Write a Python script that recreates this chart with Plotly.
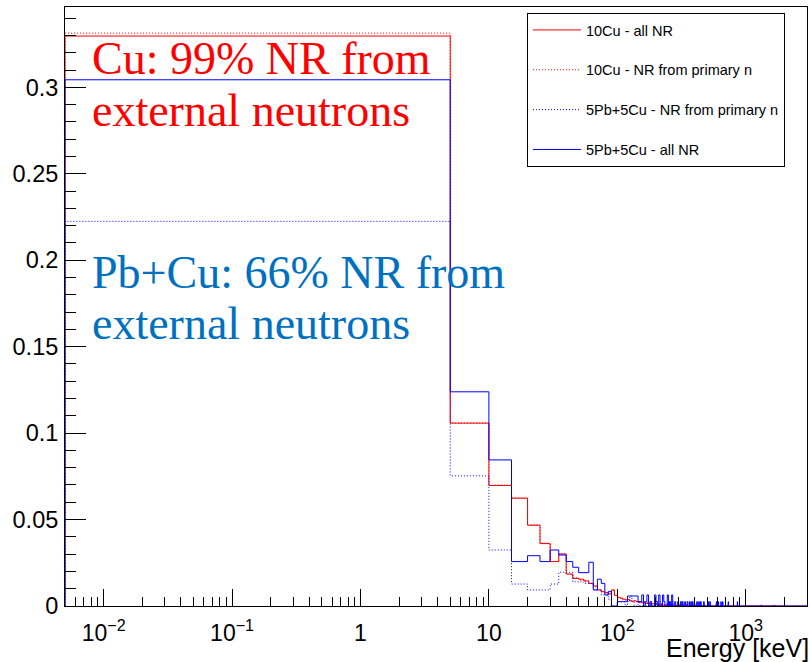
import numpy as np
import plotly.graph_objects as go

# ---------------- data ----------------
BIN_WIDTH = 5.0      # keV
N_BINS = 600         # 0 .. 3000 keV
X_MIN = 0.005        # lower limit of log axis
X_MAX = 3000.0
Y_MAX = 0.3465

# first 20 bins (0-100 keV), one value per 5 keV bin
red_all_dense = [0.3297, 0.1058, 0.0697, 0.0624, 0.0467, 0.0361, 0.0257, 0.0301, 0.0185, 0.0160,
                 0.0155, 0.0145, 0.0131, 0.0116, 0.0093, 0.0083, 0.0077, 0.0070, 0.0093, 0.0062]
red_primary_dense = [0.3314, 0.1058, 0.0699, 0.0624, 0.0470, 0.0363, 0.0257, 0.0301, 0.0183, 0.0162,
                     0.0150, 0.0145, 0.0131, 0.0114, 0.0093, 0.0081, 0.0077, 0.0068, 0.0090, 0.0060]
blue_primary_dense = [0.2225, 0.0753, 0.0324, 0.0127, 0.0093, 0.0093, 0.0127, 0.0195, 0.0195, 0.0140,
                      0.0140, 0.0131, 0.0131, 0.0093, 0.0093, 0.0064, 0.0064, 0.0040, 0.0, 0.0]
blue_all_dense = [0.3044, 0.1239, 0.0845, 0.0257, 0.0291, 0.0257, 0.0324, 0.0295, 0.0257, 0.0224,
                  0.0193, 0.0193, 0.0253, 0.0093, 0.0155, 0.0131, 0.0064, 0.0083, 0.0, 0.0]

# sparse tails above 100 keV: {bin lower edge [keV]: value}
red_all_tail = {100: 0.0050, 105: 0.0046, 110: 0.0040, 115: 0.0035, 120: 0.0038, 125: 0.0030,
                130: 0.0028, 135: 0.0030, 140: 0.0025, 145: 0.0022, 150: 0.0025, 155: 0.0018,
                160: 0.0020, 165: 0.0015, 170: 0.0018, 175: 0.0012, 180: 0.0015, 185: 0.0012,
                190: 0.0014, 195: 0.0010, 200: 0.0012, 210: 0.0010, 220: 0.0012, 230: 0.0008,
                240: 0.0010, 250: 0.0008, 265: 0.0010, 280: 0.0006, 300: 0.0008, 320: 0.0006,
                345: 0.0008, 370: 0.0006, 400: 0.0006, 430: 0.0006, 470: 0.0008, 520: 0.0006,
                580: 0.0006, 650: 0.0006, 720: 0.0006, 800: 0.0006, 1320: 0.0006, 1665: 0.0006,
                1995: 0.0006}
red_primary_tail = {100: 0.0048, 105: 0.0046, 110: 0.0038, 115: 0.0035, 120: 0.0036, 125: 0.0030,
                    130: 0.0027, 135: 0.0030, 140: 0.0025, 145: 0.0020, 150: 0.0025, 155: 0.0018,
                    160: 0.0020, 165: 0.0015, 170: 0.0016, 175: 0.0012, 180: 0.0015, 185: 0.0012,
                    190: 0.0012, 195: 0.0010, 200: 0.0012, 210: 0.0010, 220: 0.0010, 230: 0.0008,
                    240: 0.0010, 255: 0.0008, 265: 0.0008, 285: 0.0006, 300: 0.0008, 325: 0.0006,
                    345: 0.0006, 375: 0.0006, 405: 0.0006, 470: 0.0006, 525: 0.0006, 650: 0.0006,
                    800: 0.0006, 1320: 0.0006, 1665: 0.0006}
blue_primary_tail = {100: 0.0025, 105: 0.0025, 110: 0.0025, 120: 0.0025, 125: 0.0058, 130: 0.0025,
                     145: 0.0025, 160: 0.0025, 175: 0.0025, 200: 0.0025, 215: 0.0025, 250: 0.0025,
                     270: 0.0025, 320: 0.0025, 375: 0.0025, 440: 0.0025, 600: 0.0025}
blue_all_tail = {100: 0.0025, 105: 0.0025, 110: 0.0025, 115: 0.0025, 120: 0.0058, 125: 0.0058,
                 130: 0.0058, 135: 0.0058, 140: 0.0058, 145: 0.0025, 150: 0.0025, 155: 0.0064,
                 165: 0.0025, 170: 0.0064, 180: 0.0025, 195: 0.0064, 200: 0.0025, 210: 0.0064,
                 225: 0.0064, 230: 0.0025, 245: 0.0064, 255: 0.0025, 265: 0.0064, 280: 0.0025,
                 295: 0.0025, 310: 0.0025, 320: 0.0025, 335: 0.0025, 350: 0.0025, 365: 0.0025,
                 380: 0.0025, 395: 0.0025, 415: 0.0025, 430: 0.0025, 445: 0.0025, 470: 0.0025,
                 510: 0.0025, 525: 0.0025, 590: 0.0025, 610: 0.0025, 640: 0.0025, 660: 0.0025,
                 730: 0.0025, 860: 0.0025}

series_names = ["10Cu - all NR", "10Cu - NR from primary n",
                "5Pb+5Cu - NR from primary n", "5Pb+5Cu - all NR"]

x_tick_vals = [0.01, 0.1, 1, 10, 100, 1000]
x_tick_text = ["10<sup>\u22122</sup>", "10<sup>\u22121</sup>", "1", "10", "10<sup>2</sup>", "10<sup>3</sup>"]

# ---------------- build histograms ----------------
edges = np.arange(N_BINS + 1) * BIN_WIDTH
edges[0] = X_MIN  # a log axis cannot show 0


def build(dense, tail):
    vals = np.zeros(N_BINS)
    vals[:len(dense)] = dense
    for lo, v in tail.items():
        vals[int(round(lo / BIN_WIDTH))] = v
    return vals


def step_xy(vals):
    x = np.concatenate([[edges[0]], edges])
    y = np.concatenate([[0.0], vals, [0.0]])
    return x, y


hists = [build(red_all_dense, red_all_tail),
         build(red_primary_dense, red_primary_tail),
         build(blue_primary_dense, blue_primary_tail),
         build(blue_all_dense, blue_all_tail)]
colors = ["#ff0000", "#ff0000", "#0000ff", "#0000ff"]
dashes = ["solid", "1px,2px", "1px,2px", "solid"]

fig = go.Figure()
for i, (h, c, d, n) in enumerate(zip(hists, colors, dashes, series_names)):
    x, y = step_xy(h)
    fig.add_trace(go.Scatter(x=x, y=y, mode="lines", line=dict(color=c, width=1, dash=d, shape="hv"),
                             name=n, legendgroup=f"g{i}"))

fig.update_layout(
    width=810, height=662,
    margin=dict(l=65, r=3, t=7, b=56),
    paper_bgcolor="white", plot_bgcolor="white",
    font=dict(family="Liberation Sans, Arial, sans-serif", color="black"),
    showlegend=True,
    legend=dict(x=0.6226, y=0.990, xanchor="left", yanchor="top",
                bgcolor="white", bordercolor="black", borderwidth=1,
                font=dict(size=14.5), tracegroupgap=18, itemwidth=48),
)
fig.update_xaxes(
    type="log", range=[np.log10(X_MIN), np.log10(X_MAX)], automargin=False,
    tickvals=x_tick_vals, ticktext=x_tick_text,
    ticks="inside", ticklen=17, tickcolor="black", tickwidth=1, ticklabelstandoff=6,
    minor=dict(ticks="inside", ticklen=9, tickcolor="black", dtick="D1", showgrid=False),
    showline=True, linecolor="black", linewidth=1, mirror=True,
    showgrid=False, zeroline=False, tickfont=dict(size=23),
)
fig.update_yaxes(
    range=[0, Y_MAX], tick0=0, dtick=0.05, automargin=False,
    ticks="inside", ticklen=21, tickcolor="black", tickwidth=1, ticklabelstandoff=1,
    minor=dict(ticks="inside", ticklen=11, tickcolor="black", dtick=0.01, showgrid=False),
    showline=True, linecolor="black", linewidth=1, mirror=True,
    showgrid=False, zeroline=False, tickfont=dict(size=23.5),
)

serif = "Liberation Serif, Times New Roman, serif"
texts = [("Cu: 99% NR from", "#ff0000", 0.9137),
         ("external neutrons", "#ff0000", 0.8264),
         ("Pb+Cu: 66% NR from", "#0070c0", 0.5564),
         ("external neutrons", "#0070c0", 0.4708)]
for t, c, yy in texts:
    fig.add_annotation(text=t, xref="paper", yref="paper", x=0.034, y=yy,
                       xanchor="left", yanchor="middle", showarrow=False,
                       font=dict(family=serif, size=46, color=c))

fig.add_annotation(text="Energy [keV]", xref="paper", yref="paper", x=1.0, y=0,
                   xanchor="right", yanchor="middle", yshift=-42, xshift=4, showarrow=False,
                   font=dict(size=25))

fig.write_html("out.html", config={"displayModeBar": False},
               post_script="document.body.style.margin='0';document.body.style.padding='0';")
